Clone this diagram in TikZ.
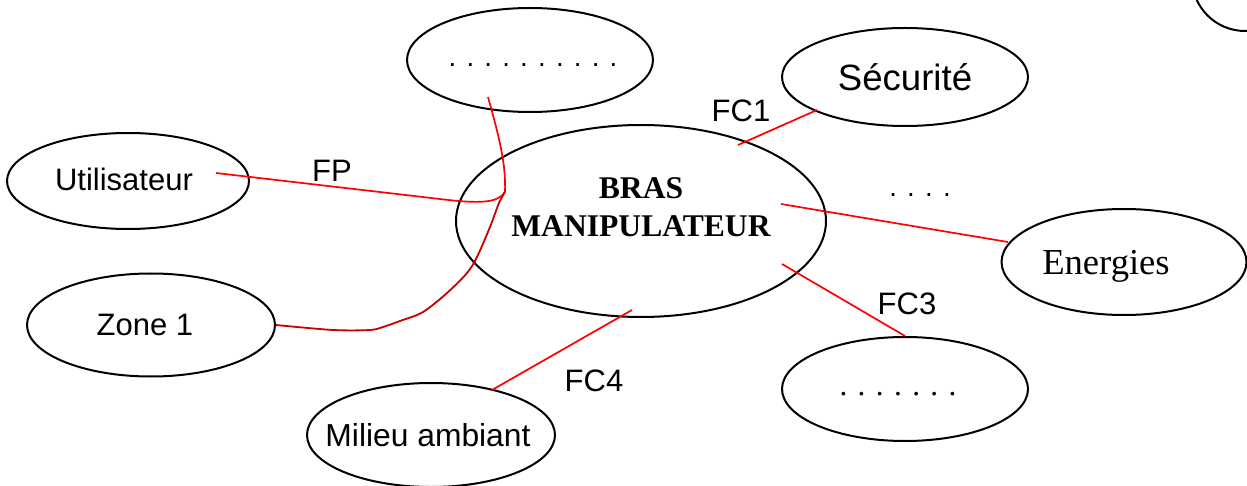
\documentclass[tikz,border=0pt]{standalone}
\usepackage{fontspec}
\setmainfont{Liberation Serif}
\setsansfont{Liberation Sans}
\usetikzlibrary{shapes.geometric}
\definecolor{inkred}{RGB}{255,0,0}
\definecolor{handred}{RGB}{200,0,0}
\tikzset{
        base/.style={draw, ellipse, inner ysep=0pt, inner xsep=-40pt, line width=1pt},
        outer/.style={base, minimum width=123pt, minimum height=52pt,
                      font=\sffamily\fontsize{15.5}{18}\selectfont},
        core/.style={base, align=center, minimum width=185pt,
                     minimum height=96pt, text depth=14pt,
                     font=\bfseries\fontsize{15.8}{19}\selectfont},
        flabel/.style={inner sep=0pt, font=\sffamily\fontsize{15.5}{18}\selectfont},
        mylink/.style={draw=inkred, line width=0.85pt},
        hand/.style={draw=handred, line width=0.9pt},
 }

\begin{document}
\begin{tikzpicture}[x=0.5pt, y=-0.5pt]
    \useasboundingbox (0,0) rectangle (1247,486);

    \node[core] (bras) at (641,221) {BRAS\\MANIPULATEUR};
    \node[outer, text height=7pt, font=\sffamily\fontsize{13.8}{16}\selectfont] (dotsa) at (530,60) {\hspace*{3pt}. . . . . . . . . .};
    \node[outer, minimum height=49pt, font=\sffamily\fontsize{18.3}{22}\selectfont] (secu) at (905,77) {Sécurité};
    \node[outer, minimum width=121pt, minimum height=48pt, text depth=1.5pt] (util) at (128,181) {Utilisateur\hspace*{4pt}};
    \node[outer, minimum width=124pt, minimum height=51.5pt] (zone) at (151,325) {Zone 1\hspace*{6pt}};
    \node[outer, minimum width=124pt, font=\sffamily\fontsize{15.9}{18}\selectfont] (milieu) at (431,435) {Milieu ambiant\hspace*{3pt}};
    \node[outer, text height=7pt, font=\rmfamily\fontsize{15.6}{18}\selectfont] (dotsb) at (905,389) {. . . . . . .\hspace*{7pt}};
    \node[outer, minimum width=122.5pt, minimum height=53pt, text depth=0pt,
          font=\rmfamily\fontsize{18.3}{22}\selectfont] (energ) at (1124,262) {Energies\hspace*{18pt}};

    \node[flabel] (fp) at (332,171) {FP};
    \node[flabel] (fc1) at (741,111) {FC1};
    \node[flabel, font=\sffamily\fontsize{13.8}{16}\selectfont] (fc2) at (920,195) {. . . .};
    \node[flabel] (fc3) at (907,304) {FC3};
    \node[flabel] (fc4) at (594,381) {FC4};

    \coordinate (joint) at (505,192);

    \draw[mylink] ([shift={(97,-76)}]bras.center) -- ([shift={(-88,33)}]secu.center);
    \draw[mylink] ([shift={(140,-17)}]bras.center) -- ([shift={(-116,-20)}]energ.center);
    \draw[mylink] ([shift={(141,43)}]bras.center) -- (dotsb.north);
    \draw[mylink] ([shift={(-9,89)}]bras.center) -- ([shift={(61,-45)}]milieu.center);

    \draw[mylink] ([shift={(88,-8)}]util.center) -- (440,199)
        .. controls (480,204) and (498,203) .. (joint);
    \draw[mylink] ([shift={(-42,37)}]dotsa.center)
        .. controls (500,140) and (506,165) .. (joint);
    \draw[hand] plot[smooth, tension=0.5] coordinates {(joint) (499,203) (490,227)
        (477,257) (467,273) (447,293) (423,312) (400,321) (383,327) (370,330)
        (333,330) (zone.east)};

    % coin en haut a droite
    \draw[line width=1pt] (1245,-22) circle[radius=26.5pt];
\end{tikzpicture}
\end{document}
